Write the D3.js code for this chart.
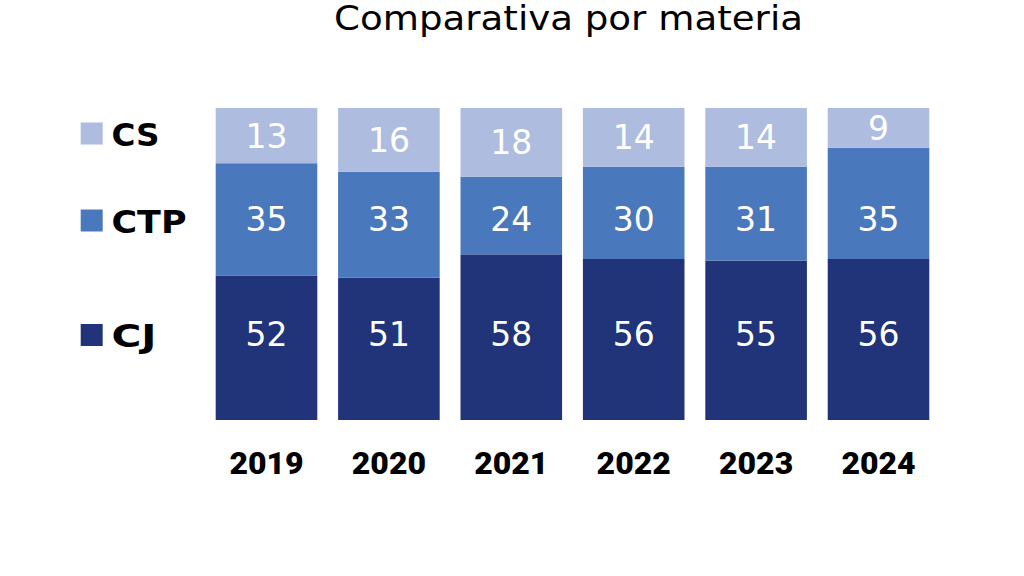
<!DOCTYPE html>
<html><head><meta charset="utf-8">
<script src="https://cdn.jsdelivr.net/npm/d3@7"></script>
<style>html,body{margin:0;padding:0;background:#fff;}svg{display:block;}</style>
</head><body>
<svg id="chart" width="1024" height="576"></svg>
<script>
// Data
const years = ["2019", "2020", "2021", "2022", "2023", "2024"];
const seriesNames = ["CJ", "CTP", "CS"];
// Printed labels
const cjLabel = [52, 51, 58, 56, 55, 56];
const ctpLabel = [35, 33, 24, 30, 31, 35];
const csLabel = [13, 16, 18, 14, 14, 9];
// Segment heights as drawn (share of full bar height, %)
const cjShare = [46.2, 45.6, 53.1, 51.6, 51.1, 51.6];
const ctpShare = [36.1, 34.0, 24.9, 29.6, 30.1, 35.7];
const csShare = [17.7, 20.4, 22.0, 18.8, 18.8, 12.7];
const colors = ["#213379", "#4a78bc", "#aebce0"];
const title = "Comparativa por materia";

const svg = d3.select("#chart");
const x = d3.scaleBand().domain(years).range([215.7, 929.3]).paddingInner(0.17).paddingOuter(0);
const y = d3.scaleLinear().domain([0, 100]).range([420, 108]);

const rows = years.map((yr, i) => ({year: yr, CJ: cjShare[i], CTP: ctpShare[i], CS: csShare[i],
  labels: {CJ: cjLabel[i], CTP: ctpLabel[i], CS: csLabel[i]}}));
const stack = d3.stack().keys(seriesNames)(rows);

// label rows (value-space positions)
const labelPos = {CJ: 27.6, CTP: 64.5, CS: 89.2};

stack.forEach((layer, li) => {
  const g = svg.append("g");
  g.selectAll("rect").data(layer).enter().append("rect")
    .attr("x", d => x(d.data.year))
    .attr("width", x.bandwidth())
    .attr("y", d => y(d[1]))
    .attr("height", d => y(d[0]) - y(d[1]))
    .attr("fill", colors[li]);
  g.selectAll("text").data(layer).enter().append("text")
    .attr("x", d => x(d.data.year) + x.bandwidth() / 2)
    .attr("y", d => {
      const key = layer.key;
      let v = labelPos[key];
      if (key === "CS") v = Math.max(v, (d[0] + d[1]) / 2);
      return y(v) + 12;
    })
    .attr("text-anchor", "middle")
    .attr("fill", "#ffffff")
    .style("font-family", "'DejaVu Sans', sans-serif")
    .style("font-size", "33px")
    .text(d => d.data.labels[layer.key]);
});

// X axis labels
const xAxis = d3.axisBottom(x).tickSize(0).tickPadding(0);
const ax = svg.append("g").attr("transform", "translate(0,451)").call(xAxis);
ax.select(".domain").remove();
ax.selectAll("text")
  .attr("dy", "0.71em")
  .attr("fill", "#000")
  .style("font-family", "Roboto, sans-serif")
  .style("font-weight", "900")
  .style("font-size", "32px");

// Legend
const legendY = {CS: 133.5, CTP: 220.5, CJ: 335};
const legendW = {CS: 48, CTP: 75, CJ: 45};
const leg = svg.append("g");
seriesNames.forEach((k, i) => {
  leg.append("rect").attr("x", 80.7).attr("y", legendY[k] - 11).attr("width", 22).attr("height", 22).attr("fill", colors[i]);
  leg.append("text").attr("x", 111.5).attr("y", legendY[k] + 12)
    .attr("fill", "#000")
    .attr("textLength", legendW[k])
    .attr("lengthAdjust", "spacingAndGlyphs")
    .style("font-family", "'DejaVu Sans', sans-serif")
    .style("font-weight", "bold")
    .style("font-size", "32px")
    .text(k);
});

// Title
svg.append("text").attr("x", 568.5).attr("y", 30).attr("text-anchor", "middle")
  .attr("fill", "#000")
  .attr("textLength", 469)
  .attr("lengthAdjust", "spacingAndGlyphs")
  .style("font-family", "'DejaVu Sans', sans-serif")
  .style("font-size", "33px")
  .text(title);
</script>
</body></html>
